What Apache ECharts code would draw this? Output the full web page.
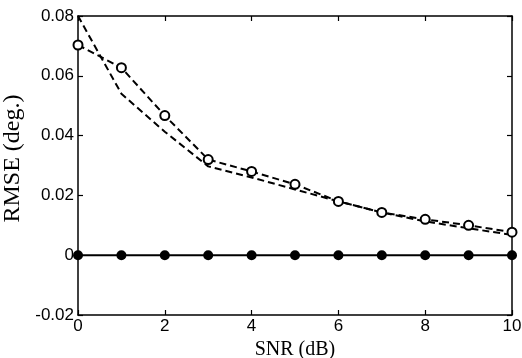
<!DOCTYPE html>
<html>
<head>
<meta charset="utf-8">
<script src="https://cdn.jsdelivr.net/npm/echarts@6/dist/echarts.min.js"></script>
<style>html,body{margin:0;padding:0;background:#fff;}#c{width:522px;height:358px;}</style>
</head>
<body>
<div id="c"></div>
<script>
var snr = [0, 1, 2, 3, 4, 5, 6, 7, 8, 9, 10];
var rmseCircle = [0.0703, 0.0627, 0.0467, 0.0320, 0.0280, 0.0237, 0.0180, 0.0143, 0.0120, 0.0100, 0.0077];
var rmseDashed = [0.0800, 0.0540, 0.0413, 0.0297, 0.0260, 0.0220, 0.0180, 0.0143, 0.0113, 0.0090, 0.0068];
var rmseZero = [0, 0, 0, 0, 0, 0, 0, 0, 0, 0, 0];
var xTicks = { min: 0, max: 10, interval: 2 };
var yTicks = { min: -0.02, max: 0.08, interval: 0.02 };

function pairs(ys) { return snr.map(function (x, i) { return [x, ys[i]]; }); }
function fmtY(v) { var r = Math.round(v * 100) / 100; return r === 0 ? '0' : r.toFixed(2); }

var chart = echarts.init(document.getElementById('c'), null, { renderer: 'canvas' });
var axisLine = { show: true, onZero: false, lineStyle: { color: '#000', width: 1.5 } };
var tickIn = { show: true, inside: true, length: 5, lineStyle: { color: '#000', width: 1.2 } };
chart.setOption({
  animation: false,
  backgroundColor: '#fff',
  grid: { left: 78, right: 10, top: 16, bottom: 43, containLabel: false, outerBoundsMode: 'none' },
  xAxis: [{
    type: 'value', min: xTicks.min, max: xTicks.max, interval: xTicks.interval,
    name: 'SNR (dB)', nameLocation: 'middle', nameGap: 19,
    nameTextStyle: { fontFamily: 'Liberation Serif', fontSize: 20, color: '#000' },
    axisLine: axisLine, axisTick: tickIn, splitLine: { show: false },
    axisLabel: { fontFamily: 'Liberation Sans', fontSize: 17, color: '#000', margin: 3 }
  }, {
    type: 'value', position: 'top', min: xTicks.min, max: xTicks.max, interval: xTicks.interval,
    axisLine: axisLine, axisTick: tickIn, splitLine: { show: false }, axisLabel: { show: false }
  }],
  yAxis: [{
    type: 'value', min: yTicks.min, max: yTicks.max, interval: yTicks.interval,
    name: 'RMSE (deg.)', nameLocation: 'middle', nameGap: 46, nameRotate: 90,
    nameTextStyle: { fontFamily: 'Liberation Serif', fontSize: 24, color: '#000', padding: [0, 0, 0, 14] },
    axisLine: axisLine, axisTick: tickIn, splitLine: { show: false },
    axisLabel: { fontFamily: 'Liberation Sans', fontSize: 17, color: '#000', margin: 4, formatter: fmtY }
  }, {
    type: 'value', position: 'right', min: yTicks.min, max: yTicks.max, interval: yTicks.interval,
    axisLine: axisLine, axisTick: tickIn, splitLine: { show: false }, axisLabel: { show: false }
  }],
  series: [{
    type: 'line', data: pairs(rmseZero), symbol: 'circle', symbolSize: 10,
    lineStyle: { color: '#000', width: 2 }, itemStyle: { color: '#000' }, z: 3
  }, {
    type: 'line', data: pairs(rmseDashed), symbol: 'none',
    lineStyle: { color: '#000', width: 2, type: [7, 4] }, z: 4
  }, {
    type: 'line', data: pairs(rmseCircle), symbol: 'circle', symbolSize: 9,
    lineStyle: { color: '#000', width: 2, type: [7, 4] },
    itemStyle: { color: '#fff', borderColor: '#000', borderWidth: 2 }, z: 5
  }]
});
</script>
</body>
</html>
